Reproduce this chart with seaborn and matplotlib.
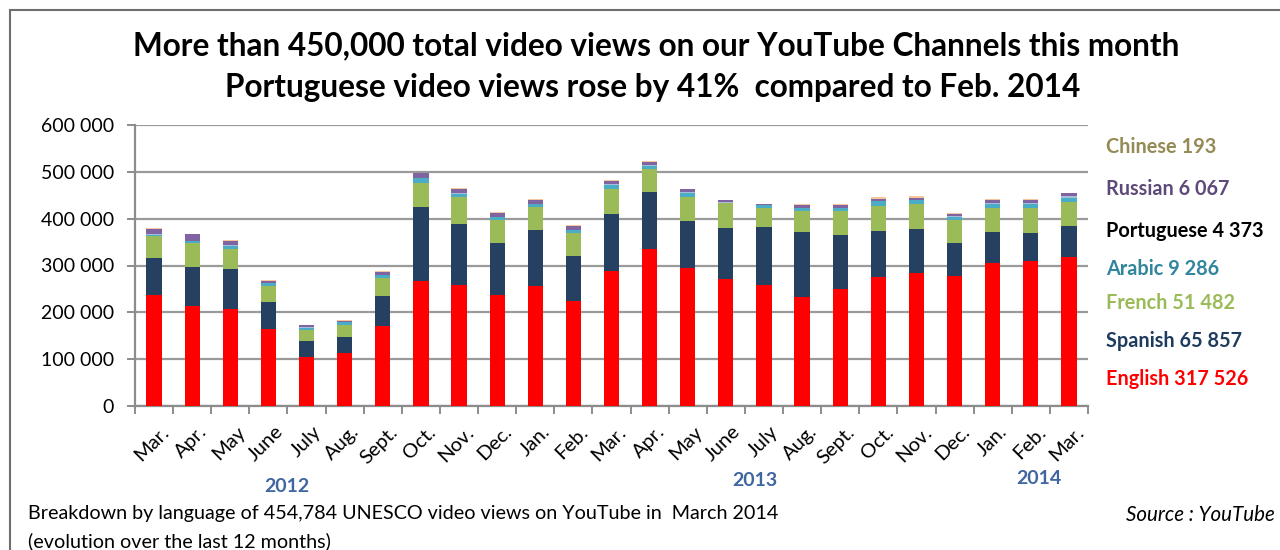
import numpy as np
import pandas as pd
import matplotlib
matplotlib.use("Agg")
import matplotlib.pyplot as plt
from matplotlib.ticker import FuncFormatter, FixedLocator
from matplotlib.transforms import ScaledTranslation
import seaborn as sns

months = ["Mar.", "Apr.", "May", "June", "July", "Aug.", "Sept.", "Oct.", "Nov.", "Dec.",
          "Jan.", "Feb.", "Mar.", "Apr.", "May", "June", "July", "Aug.", "Sept.", "Oct.",
          "Nov.", "Dec.", "Jan.", "Feb.", "Mar."]
english = [237000, 214000, 207000, 164000, 104000, 112500, 171500, 267500, 258000, 236000,
           255500, 224000, 287500, 336000, 294000, 271000, 258000, 232000, 249000, 276000,
           285000, 277500, 304500, 309000, 317526]
spanish = [80000, 83000, 85000, 59000, 35500, 35500, 64000, 157500, 130000, 112000,
           119500, 96000, 123000, 121500, 100000, 110000, 123500, 140000, 117000, 98000,
           92000, 70500, 66000, 61000, 65857]
french = [45000, 50000, 44000, 33000, 23000, 25000, 37000, 52000, 57500, 49000,
          50000, 49000, 53500, 49000, 53000, 52500, 42000, 43500, 49500, 53000,
          54000, 50000, 52500, 52000, 51482]
arabic = [4000, 5000, 6000, 6000, 5000, 5500, 7000, 9000, 7500, 6500,
          5500, 6500, 8000, 6000, 7500, 1000, 5500, 6500, 7000, 10000,
          8000, 6000, 9000, 9000, 9286]
portuguese = [2000, 1000, 1000, 1000, 1000, 1000, 1000, 1500, 1500, 1000,
              1000, 1000, 1000, 2000, 2000, 1000, 1000, 1000, 1000, 1500,
              1500, 1000, 1500, 3100, 4373]
russian = [11000, 14000, 10000, 4000, 4000, 2000, 5500, 9000, 8000, 7000,
           8000, 7000, 7000, 7000, 6000, 4000, 1000, 5500, 5000, 4500,
           4500, 5000, 6000, 5500, 6067]
chinese = [1500, 1000, 2000, 2000, 1500, 2000, 2000, 2000, 2000, 2000,
           2000, 2000, 2000, 2000, 1500, 1000, 500, 2000, 2000, 3000,
           2500, 3000, 3000, 2500, 193]

languages = ["English", "Spanish", "French", "Arabic", "Portuguese", "Russian", "Chinese"]
series = [english, spanish, french, arabic, portuguese, russian, chinese]
bar_colors = ["#FF0000", "#254061", "#9BBB59", "#4BACC6", "#A6BEDC", "#8064A2", "#F7C79B"]
label_colors = ["#FF0000", "#1F3B5E", "#9BBB59", "#31859C", "#000000", "#5F497A", "#948A54"]
years = ["2012", "2013", "2014"]
title1 = "More than 450,000 total video views on our YouTube Channels this month"
title2 = "Portuguese video views rose by 41%  compared to Feb. 2014"
caption1 = "Breakdown by language of 454,784 UNESCO video views on YouTube in  March 2014"
caption2 = "(evolution over the last 12 months)"
source = "Source : YouTube"

sns.set_theme(style="white")
plt.rcParams["font.family"] = ["Lato", "DejaVu Sans"]
plt.rcParams["text.color"] = "#000000"
plt.rcParams["xtick.color"] = "#000000"
plt.rcParams["ytick.color"] = "#000000"

W, H = 1280, 550
fig = plt.figure(figsize=(12.8, 5.5), dpi=100)
ax = fig.add_axes([135 / W, 1 - 406 / H, (1088 - 135) / W, (406 - 125) / H])

df = pd.DataFrame({"idx": np.arange(len(months))})
cum = np.zeros(len(months))
cums = []
for s in series:
    cum = cum + np.array(s, dtype=float)
    cums.append(cum.copy())
for i in range(len(series) - 1, -1, -1):
    df["v"] = cums[i]
    sns.barplot(data=df, x="idx", y="v", color=bar_colors[i], saturation=1,
                width=0.4, linewidth=0, ax=ax, zorder=3)

ax.set_xlim(-0.5, len(months) - 0.5)
ax.set_ylim(0, 600000)
ax.set_yticks(np.arange(0, 600001, 100000))
ax.yaxis.set_major_formatter(FuncFormatter(lambda v, p: f"{int(v):,}".replace(",", " ")))
ax.yaxis.grid(True, color="#9A9A9A", linewidth=1.6, zorder=0)
ax.set_axisbelow(True)
ax.set_xlabel("")
ax.set_ylabel("")
for sp in ["top", "right"]:
    ax.spines[sp].set_visible(False)
for sp in ["left", "bottom"]:
    ax.spines[sp].set_color("#8C8C8C")
    ax.spines[sp].set_linewidth(1.6)

ax.set_xticks(np.arange(len(months)))
ax.set_xticklabels(months, rotation=45, ha="right", va="center", rotation_mode="anchor",
                   fontsize=14.5, color="#000000")
ax.tick_params(axis="x", which="major", length=0, pad=0)
ax.xaxis.set_minor_locator(FixedLocator(np.arange(-0.5, len(months), 1.0)))
ax.tick_params(axis="x", which="minor", length=6, width=1.4, color="#8C8C8C", direction="out", bottom=True)
ax.tick_params(axis="y", length=6, width=1.4, color="#8C8C8C", direction="out", left=True,
               labelsize=14, pad=9, labelcolor="#000000")
offset = ScaledTranslation(12 / 100, -23 / 100, fig.dpi_scale_trans)
for lab in ax.get_xticklabels():
    lab.set_transform(lab.get_transform() + offset)

def fx(x):
    return x / W

def fy(y):
    return 1 - y / H

fig.text(fx(656), fy(46), title1, ha="center", va="center", fontsize=22.7, fontweight="bold")
fig.text(fx(653), fy(87), title2, ha="center", va="center", fontsize=22.7, fontweight="bold")

leg_y = [379, 341, 303, 269, 231, 189, 147]
leg_vals = ["317 526", "65 857", "51 482", "9 286", "4 373", "6 067", "193"]
for name, val, c, y in zip(languages, leg_vals, label_colors, leg_y):
    fig.text(fx(1106), fy(y), f"{name} {val}", ha="left", va="center", fontsize=14.3,
             fontweight="bold", color=c)

year_pos = [(287, 486), (755, 480), (1039, 478)]
for yr, (x, y) in zip(years, year_pos):
    fig.text(fx(x), fy(y), yr, ha="center", va="center", fontsize=14, fontweight="bold",
             color="#3F66A0")

fig.text(fx(28), fy(513), caption1, ha="left", va="center", fontsize=14.2)
fig.text(fx(28), fy(541), caption2, ha="left", va="center", fontsize=14.2)
fig.text(fx(1275), fy(515), source, ha="right", va="center", fontsize=14.8, style="italic")

fig.add_artist(plt.Line2D([fx(10), fx(1280)], [fy(10), fy(10)], color="#6E6E6E", linewidth=1.5))
fig.add_artist(plt.Line2D([fx(10), fx(10)], [fy(10), fy(550)], color="#6E6E6E", linewidth=1.5))

fig.savefig("out.png", dpi=100)
